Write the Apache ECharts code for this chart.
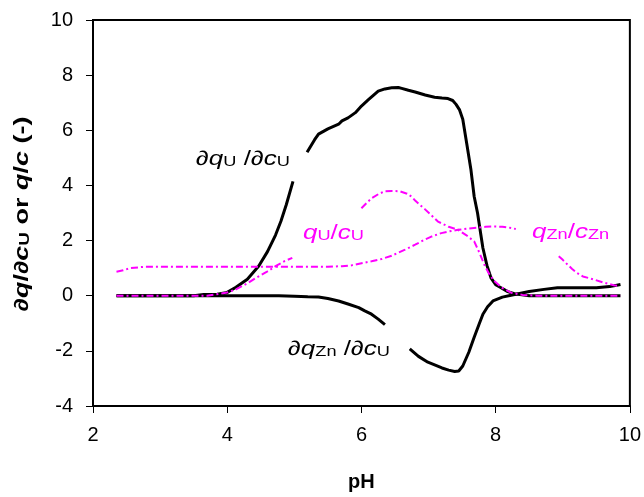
<!DOCTYPE html>
<html><head><meta charset="utf-8">
<script src="https://cdn.jsdelivr.net/npm/echarts@6/dist/echarts.min.js"></script>
<style>html,body{margin:0;padding:0;background:#fff}#c{width:644px;height:497px}</style>
</head><body><div id="c"></div>
<script>
// ∂qU/∂cU
const dqU_x = [2.35,3.5,3.65,3.85,4.0,4.13,4.3,4.47,4.6,4.72,4.8,4.88,4.98,5.08,5.19,5.3,5.36,5.5,5.66,5.71,5.8,5.91,6.0,6.1,6.25,6.35,6.45,6.55,6.6,6.7,6.8,6.95,7.09,7.2,7.29,7.36,7.41,7.46,7.51,7.57,7.63,7.68,7.73,7.78,7.81,7.87,7.93,8.0,8.08,8.18,8.28,8.5,9.0,9.5,9.86];
const dqU_y = [0,0,0.04,0.05,0.12,0.31,0.6,1.08,1.6,2.2,2.7,3.3,4.15,null,5.2,5.65,5.86,6.05,6.22,6.34,6.45,6.64,6.88,7.1,7.42,7.5,7.54,7.55,7.52,7.45,7.39,7.28,7.2,7.17,7.15,7.08,6.94,6.75,6.4,5.5,4.6,3.6,3.0,2.2,1.73,1.1,0.65,0.4,0.29,0.15,0.07,0,0,0,0];
// ∂qZn/∂cU
const dqZn_x = [2.35,3.5,4.5,4.77,5.0,5.2,5.36,5.5,5.66,5.8,5.96,6.05,6.15,6.25,6.35,6.5,6.72,6.85,6.99,7.1,7.2,7.3,7.39,7.45,7.51,7.6,7.68,7.75,7.81,7.88,7.96,8.1,8.23,8.5,8.72,8.92,9.2,9.5,9.7,9.86];
const dqZn_y = [0,0,0,0,-0.02,-0.04,-0.05,-0.1,-0.19,-0.3,-0.43,-0.55,-0.67,-0.85,-1.05,null,-1.93,-2.2,-2.41,-2.52,-2.62,-2.7,-2.75,-2.73,-2.55,-2.05,-1.51,-1.05,-0.67,-0.4,-0.19,-0.05,0.02,0.15,0.23,0.29,0.29,0.29,0.33,0.41];
// qU/cU
const qU_x = [2.35,3.7,3.83,4.0,4.13,4.3,4.43,4.6,4.72,4.85,4.97,5.5,6.0,6.08,6.15,6.25,6.35,6.45,6.57,6.68,6.75,6.8,6.94,7.05,7.14,7.3,7.44,7.56,7.68,7.76,7.83,7.9,7.98,8.1,8.23,8.4,8.62,9.0,9.5,9.86];
const qU_y = [0,0,0.05,0.12,0.23,0.45,0.65,0.88,1.07,1.25,1.37,null,3.17,3.37,3.53,3.68,3.79,3.8,3.79,3.7,3.59,3.45,3.15,2.9,2.69,2.5,2.39,2.2,1.97,1.55,1.13,0.8,0.53,0.28,0.11,0.03,0,0,0,0];
// qZn/cZn
const qZn_x = [2.35,2.45,2.55,2.77,3.0,4.0,5.0,5.5,5.71,5.85,5.95,6.05,6.15,6.3,6.45,6.65,6.8,6.94,7.05,7.19,7.3,7.44,7.6,7.73,7.85,7.98,8.1,8.2,8.3,8.6,8.94,9.0,9.07,9.14,9.21,9.3,9.46,9.6,9.76,9.82];
const qZn_y = [0.87,0.92,1.0,1.05,1.05,1.05,1.05,1.05,1.07,1.1,1.15,1.2,1.25,1.33,1.45,1.67,1.85,2.03,2.15,2.27,2.33,2.39,2.44,2.47,2.5,2.51,2.5,2.47,2.42,null,1.43,1.3,1.13,0.97,0.83,0.7,0.59,0.48,0.38,0.36];

const xRange = [2, 10, 2];
const yRange = [-4, 10, 2];

const FONT = '"Liberation Sans", Arial, sans-serif';
const MAG = '#FF00FF';
function pairs(xs, ys){ return xs.map((x,i)=>[x, ys[i]]); }

const chart = echarts.init(document.getElementById('c'), null, {renderer:'canvas'});
const richLab = (color) => ({
  n: {fontFamily: FONT, fontSize: 20, color: color, verticalAlign: 'bottom'},
  i: {fontFamily: FONT, fontSize: 20, fontStyle: 'italic', color: color, verticalAlign: 'bottom'},
  s: {fontFamily: FONT, fontSize: 14, color: color, verticalAlign: 'bottom'}
});
function lab(x, y, text, color){
  return {type:'text', x:x, y:y, z:100, scaleX:1.3, scaleY:1,
    style:{text:text, fill:color, font:'20px '+FONT, rich:richLab(color)}};
}
const titleRich = {
  b:{fontFamily:FONT, fontSize:20, fontWeight:'bold', color:'#000', verticalAlign:'bottom'},
  bi:{fontFamily:FONT, fontSize:20, fontWeight:'bold', fontStyle:'italic', color:'#000', verticalAlign:'bottom'},
  bs:{fontFamily:FONT, fontSize:14, fontWeight:'bold', color:'#000', verticalAlign:'bottom'}
};
chart.setOption({
  animation:false,
  backgroundColor:'#fff',
  grid:{left:93, right:11, top:20, bottom:88, show:true, borderColor:'#000', borderWidth:2, backgroundColor:'transparent'},
  xAxis:{type:'value', min:xRange[0], max:xRange[1], interval:xRange[2],
    name:'pH', nameLocation:'middle', nameGap:66,
    nameTextStyle:{fontFamily:FONT, fontSize:20, fontWeight:'bold', color:'#000'},
    axisLine:{show:true, onZero:false, lineStyle:{color:'#000', width:2}},
    axisTick:{show:true, inside:false, length:7, lineStyle:{color:'#000', width:1}},
    axisLabel:{fontFamily:FONT, fontSize:20, color:'#000', margin:19},
    splitLine:{show:false}},
  yAxis:{type:'value', min:yRange[0], max:yRange[1], interval:yRange[2],
    axisLine:{show:true, onZero:false, lineStyle:{color:'#000', width:2}},
    axisTick:{show:true, inside:false, length:7, lineStyle:{color:'#000', width:1}},
    axisLabel:{fontFamily:FONT, fontSize:20, color:'#000', margin:20},
    splitLine:{show:false}},
  series:[
    {type:'line', name:'dqU', data:pairs(dqU_x,dqU_y), showSymbol:false, symbol:'none', lineStyle:{color:'#000', width:3}, z:2},
    {type:'line', name:'dqZn', data:pairs(dqZn_x,dqZn_y), showSymbol:false, symbol:'none', lineStyle:{color:'#000', width:3}, z:2},
    {type:'line', name:'qU', data:pairs(qU_x,qU_y), showSymbol:false, symbol:'none', lineStyle:{color:MAG, width:2, type:[7,3,2,3]}, z:3},
    {type:'line', name:'qZn', data:pairs(qZn_x,qZn_y), showSymbol:false, symbol:'none', lineStyle:{color:MAG, width:2, type:[7,3,2,3]}, z:3}
  ],
  graphic:[
    {type:'text', x:22, y:214, rotation:Math.PI/2, scaleX:1.35, scaleY:1, z:100,
      style:{text:'{b|∂}{bi|q}{b|/∂}{bi|c}{bs|U}{b| or }{bi|q}{b|/}{bi|c}{b| (-)}',
        align:'center', verticalAlign:'middle', fill:'#000', font:'bold 20px '+FONT, rich:titleRich}},
    lab(196, 149, '{n|∂}{i|q}{s|U}{n| /∂}{i|c}{s|U}', '#000'),
    lab(303, 223, '{i|q}{s|U}{n|/}{i|c}{s|U}', MAG),
    lab(288, 339, '{n|∂}{i|q}{s|Zn}{n| /∂}{i|c}{s|U}', '#000'),
    lab(532, 222, '{i|q}{s|Zn}{n|/}{i|c}{s|Zn}', MAG)
  ]
});
</script></body></html>
